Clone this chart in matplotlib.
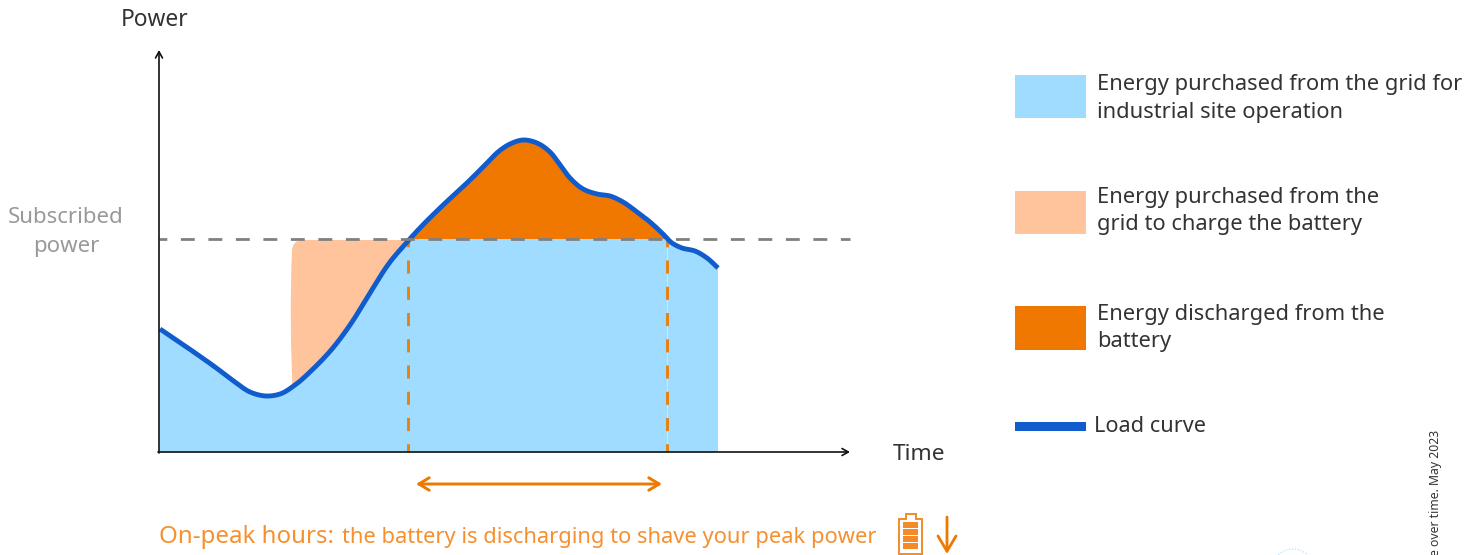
#!/usr/bin/env python3
"""Peak shaving sketch: load curve, subscribed power and battery use."""
import numpy as np
import matplotlib
matplotlib.use("Agg")
import matplotlib.pyplot as plt
from matplotlib.patches import Arc, PathPatch, Rectangle
from matplotlib.path import Path

# Load curve (pixel units of the reference)
load_x = [160, 188, 215, 235, 250, 266, 280, 295, 312, 332, 350, 370, 390, 408, 418, 440,
          470, 488, 498, 510, 523, 537, 550, 560, 570, 583, 597, 610, 623, 637, 650, 663,
          672, 682, 695, 707, 718]
load_y = [329, 348, 367, 382, 392, 396, 394, 385, 370, 349, 325, 293, 262, 241, 230, 208,
          180, 162, 152, 144, 140, 143, 152, 165, 178, 189, 194, 196, 202, 212, 222, 234,
          243, 248, 251, 258, 268]
subscribed = 239
axis_x0 = 159
axis_y0 = 452
discharge_start = 408
discharge_end = 667

legend_labels = [
    "Energy purchased from the grid for\nindustrial site operation",
    "Energy purchased from the\ngrid to charge the battery",
    "Energy discharged from the\nbattery",
    "Load curve",
]

BLUE = "#a0dcff"
PEACH = "#ffc49c"
ORANGE = "#f07800"
LINE = "#115ccc"
GREY = "#808080"
TEXT = "#333333"

plt.rcParams["font.family"] = ["Noto Sans", "DejaVu Sans"]


def smooth(xs, ys, n=10):
    # Hermite through the read points, only to draw them as a round line
    p = np.column_stack([xs, ys]).astype(float)
    s = np.r_[0, np.cumsum(np.hypot(*np.diff(p, axis=0).T))]
    m = np.gradient(p, s, axis=0)
    t = np.linspace(0, 1, n, endpoint=False)[:, None]
    out = []
    for i in range(len(p) - 1):
        h = s[i + 1] - s[i]
        out.append((2 * t ** 3 - 3 * t ** 2 + 1) * p[i] + (t ** 3 - 2 * t ** 2 + t) * h * m[i]
                   + (-2 * t ** 3 + 3 * t ** 2) * p[i + 1] + (t ** 3 - t ** 2) * h * m[i + 1])
    out.append(p[-1][None, :])
    return np.vstack(out)


fig = plt.figure(figsize=(14.67, 5.55), dpi=100)
ax = fig.add_axes([0, 0, 1, 1])
ax.set_xlim(0, 1467)
ax.set_ylim(555, 0)
ax.axis("off")

curve = smooth(load_x, load_y)
under = np.vstack([curve, [load_x[-1], axis_y0], [load_x[0], axis_y0]])
under_patch = PathPatch(Path(np.vstack([under, under[0]]), closed=True),
                        transform=ax.transData, fc="none", ec="none")
ax.add_patch(under_patch)

# Charging area, goes under the blue one
peach = Path([(293, 400), (289, 320), (292, 250), (293, 240), (303, 240), (416, 240), (416, 400), (293, 400)],
             [Path.MOVETO, Path.CURVE3, Path.LINETO, Path.CURVE3, Path.LINETO, Path.LINETO, Path.LINETO,
              Path.CLOSEPOLY])
ax.add_patch(PathPatch(peach, fc=PEACH, ec="none", zorder=1))

blue = Rectangle((load_x[0], subscribed), load_x[-1] - load_x[0], axis_y0 - subscribed,
                 fc=BLUE, ec="none", zorder=2)
ax.add_patch(blue)
blue.set_clip_path(under_patch)
orange = Rectangle((load_x[0], 130), load_x[-1] - load_x[0], subscribed - 130,
                   fc=ORANGE, ec="none", zorder=2)
ax.add_patch(orange)
orange.set_clip_path(under_patch)

ax.plot(curve[:, 0], curve[:, 1], color=LINE, lw=3.5, zorder=5, solid_capstyle="butt")

# Limits
ax.plot([axis_x0, 850], [subscribed, subscribed], color=GREY, lw=2.0, zorder=6,
        linestyle=(2.2, (5, 4.9)), dash_capstyle="butt")
for x in [discharge_start, discharge_end]:
    ax.plot([x, x], [subscribed, axis_y0], color="#e8820f", lw=2.1, zorder=4,
            linestyle=(1.8, (4.5, 4.5)), dash_capstyle="butt")
ax.plot([discharge_end, discharge_end], [subscribed, axis_y0], color="white", lw=0.8, alpha=0.4, zorder=3)

# Axes with open arrows
arrow = dict(arrowstyle="->,head_length=0.45,head_width=0.25", color="#111111", lw=1.2, shrinkA=0, shrinkB=0)
ax.annotate("", xy=(159, 50), xytext=(159, 453), arrowprops=arrow, zorder=7)
ax.annotate("", xy=(850, 452), xytext=(158, 452), arrowprops=arrow, zorder=7)

ax.text(121, 20, "Power", fontsize=16.4, color=TEXT, va="center", ha="left")
ax.text(893, 454, "Time", fontsize=16.3, color=TEXT, va="center", ha="left")
ax.text(66, 232, "Subscribed\npower", fontsize=16.0, color="#999999", va="center", ha="center",
        linespacing=1.5)

# Peak hours span
span = dict(arrowstyle="<->,head_length=0.75,head_width=0.45", color=ORANGE, lw=2.1, shrinkA=0, shrinkB=0)
ax.annotate("", xy=(416, 484), xytext=(662, 484), arrowprops=span)
ax.text(159, 537, "On-peak hours:", fontsize=17.3, color="#f6902e", va="center", ha="left")
ax.text(342, 537, "the battery is discharging to shave your peak power", fontsize=15.75, color="#f6902e",
        va="center", ha="left")

# Battery icon
ax.add_patch(PathPatch(Path([(899, 554), (899, 519), (906, 519), (906, 514), (916, 514), (916, 519),
                             (922, 519), (922, 554), (899, 554)], closed=True),
                       fc="white", ec="#f28c28", lw=1.4))
for top in [522, 529, 536, 543]:
    ax.add_patch(Rectangle((903, top), 15, 6, fc="#f58a27", ec="none"))
down = dict(arrowstyle="->,head_length=1.1,head_width=0.65", color=ORANGE, lw=2.0, shrinkA=0, shrinkB=0)
ax.annotate("", xy=(947, 554), xytext=(947, 517), arrowprops=down)

# Legend
swatch_top = [75, 191, 306]
swatch_bottom = [118, 234, 350]
swatch_colors = [BLUE, PEACH, ORANGE]
text_y = [98.5, 211, 328]
for i in range(3):
    ax.add_patch(Rectangle((1015, swatch_top[i]), 71, swatch_bottom[i] - swatch_top[i],
                           fc=swatch_colors[i], ec="none"))
    ax.text(1097, text_y[i], legend_labels[i], fontsize=15.75, color=TEXT, va="center", ha="left",
            linespacing=1.43)
ax.add_patch(Rectangle((1015, 422), 71, 9, fc=LINE, ec="none"))
ax.text(1094, 426, legend_labels[3], fontsize=15.6, color=TEXT, va="center", ha="left")

# Cut off source line and seal at the picture edge
ax.text(1436, 430, "e over time. May 2023", fontsize=8.8, color="#333333", rotation=90, va="top", ha="center")
ax.add_patch(Arc((1293, 572), 44, 46, theta1=200, theta2=340, ec="#a0dcff", lw=0.8, ls=":"))

fig.savefig("out.png", dpi=100)
